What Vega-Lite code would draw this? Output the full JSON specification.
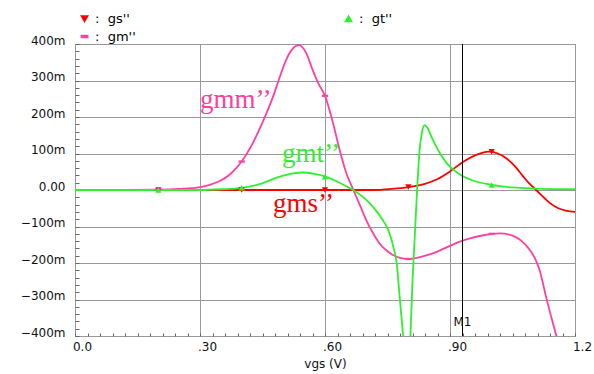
{
  "$schema": "https://vega.github.io/schema/vega-lite/v6.json",
  "width": 500,
  "height": 292,
  "autosize": "none",
  "padding": {"left": 75, "top": 44, "right": 19, "bottom": 38},
  "background": "white",
  "config": {
    "view": {"stroke": "#999999", "strokeWidth": 1},
    "axis": {"labelFont": "DejaVu Sans", "labelFontSize": 12, "labelColor": "#111111", "titleFont": "DejaVu Sans", "titleFontSize": 12, "titleFontWeight": "normal", "titleColor": "#111111", "domain": false, "tickColor": "#666666", "labelOverlap": false, "labelFlush": false}
  },
  "datasets": {
    "curves": [
      {"series": "gs''", "x": 0, "y": 0}, {"series": "gs''", "x": 0.2, "y": 0}, {"series": "gs''", "x": 0.4, "y": 0}, {"series": "gs''", "x": 0.6, "y": 0}, {"series": "gs''", "x": 0.72, "y": 0}, {"series": "gs''", "x": 0.76, "y": 0.003}, {"series": "gs''", "x": 0.8, "y": 0.008}, {"series": "gs''", "x": 0.84, "y": 0.017}, {"series": "gs''", "x": 0.87, "y": 0.03}, {"series": "gs''", "x": 0.9, "y": 0.051}, {"series": "gs''", "x": 0.93, "y": 0.076}, {"series": "gs''", "x": 0.955, "y": 0.092}, {"series": "gs''", "x": 0.975, "y": 0.101}, {"series": "gs''", "x": 0.995, "y": 0.105}, {"series": "gs''", "x": 1.015, "y": 0.1}, {"series": "gs''", "x": 1.035, "y": 0.087}, {"series": "gs''", "x": 1.055, "y": 0.066}, {"series": "gs''", "x": 1.075, "y": 0.038}, {"series": "gs''", "x": 1.09, "y": 0.018}, {"series": "gs''", "x": 1.105, "y": 0.002}, {"series": "gs''", "x": 1.12, "y": -0.015}, {"series": "gs''", "x": 1.14, "y": -0.036}, {"series": "gs''", "x": 1.16, "y": -0.05}, {"series": "gs''", "x": 1.18, "y": -0.057}, {"series": "gs''", "x": 1.2, "y": -0.06},
      {"series": "gm''", "x": 0, "y": 0}, {"series": "gm''", "x": 0.1, "y": 0}, {"series": "gm''", "x": 0.2, "y": 0.001}, {"series": "gm''", "x": 0.25, "y": 0.003}, {"series": "gm''", "x": 0.3, "y": 0.008}, {"series": "gm''", "x": 0.325, "y": 0.015}, {"series": "gm''", "x": 0.35, "y": 0.026}, {"series": "gm''", "x": 0.375, "y": 0.046}, {"series": "gm''", "x": 0.4, "y": 0.078}, {"series": "gm''", "x": 0.425, "y": 0.125}, {"series": "gm''", "x": 0.45, "y": 0.185}, {"series": "gm''", "x": 0.475, "y": 0.255}, {"series": "gm''", "x": 0.49, "y": 0.305}, {"series": "gm''", "x": 0.505, "y": 0.352}, {"series": "gm''", "x": 0.52, "y": 0.384}, {"series": "gm''", "x": 0.538, "y": 0.397}, {"series": "gm''", "x": 0.555, "y": 0.375}, {"series": "gm''", "x": 0.57, "y": 0.33}, {"series": "gm''", "x": 0.585, "y": 0.29}, {"series": "gm''", "x": 0.6, "y": 0.258}, {"series": "gm''", "x": 0.62, "y": 0.18}, {"series": "gm''", "x": 0.635, "y": 0.11}, {"series": "gm''", "x": 0.65, "y": 0.05}, {"series": "gm''", "x": 0.668, "y": 0}, {"series": "gm''", "x": 0.685, "y": -0.045}, {"series": "gm''", "x": 0.7, "y": -0.085}, {"series": "gm''", "x": 0.715, "y": -0.118}, {"series": "gm''", "x": 0.73, "y": -0.145}, {"series": "gm''", "x": 0.745, "y": -0.163}, {"series": "gm''", "x": 0.763, "y": -0.178}, {"series": "gm''", "x": 0.78, "y": -0.186}, {"series": "gm''", "x": 0.8, "y": -0.189}, {"series": "gm''", "x": 0.83, "y": -0.183}, {"series": "gm''", "x": 0.86, "y": -0.173}, {"series": "gm''", "x": 0.9, "y": -0.153}, {"series": "gm''", "x": 0.92, "y": -0.143}, {"series": "gm''", "x": 0.95, "y": -0.132}, {"series": "gm''", "x": 0.98, "y": -0.124}, {"series": "gm''", "x": 1.02, "y": -0.119}, {"series": "gm''", "x": 1.05, "y": -0.125}, {"series": "gm''", "x": 1.07, "y": -0.138}, {"series": "gm''", "x": 1.09, "y": -0.162}, {"series": "gm''", "x": 1.105, "y": -0.19}, {"series": "gm''", "x": 1.115, "y": -0.219}, {"series": "gm''", "x": 1.13, "y": -0.29}, {"series": "gm''", "x": 1.147, "y": -0.365}, {"series": "gm''", "x": 1.16, "y": -0.42}, {"series": "gm''", "x": 1.175, "y": -0.5},
      {"series": "gt''", "x": 0, "y": 0}, {"series": "gt''", "x": 0.3, "y": 0}, {"series": "gt''", "x": 0.35, "y": 0.002}, {"series": "gt''", "x": 0.4, "y": 0.006}, {"series": "gt''", "x": 0.443, "y": 0.016}, {"series": "gt''", "x": 0.49, "y": 0.036}, {"series": "gt''", "x": 0.52, "y": 0.045}, {"series": "gt''", "x": 0.547, "y": 0.048}, {"series": "gt''", "x": 0.575, "y": 0.044}, {"series": "gt''", "x": 0.603, "y": 0.036}, {"series": "gt''", "x": 0.635, "y": 0.02}, {"series": "gt''", "x": 0.667, "y": 0}, {"series": "gt''", "x": 0.69, "y": -0.018}, {"series": "gt''", "x": 0.707, "y": -0.036}, {"series": "gt''", "x": 0.725, "y": -0.06}, {"series": "gt''", "x": 0.74, "y": -0.085}, {"series": "gt''", "x": 0.75, "y": -0.105}, {"series": "gt''", "x": 0.758, "y": -0.13}, {"series": "gt''", "x": 0.765, "y": -0.16}, {"series": "gt''", "x": 0.772, "y": -0.2}, {"series": "gt''", "x": 0.779, "y": -0.29}, {"series": "gt''", "x": 0.786, "y": -0.38}, {"series": "gt''", "x": 0.79, "y": -0.43}, {"series": "gt''", "x": 0.797, "y": -0.6}, {"series": "gt''", "x": 0.804, "y": -0.43}, {"series": "gt''", "x": 0.81, "y": -0.25}, {"series": "gt''", "x": 0.815, "y": -0.137}, {"series": "gt''", "x": 0.821, "y": 0}, {"series": "gt''", "x": 0.827, "y": 0.11}, {"series": "gt''", "x": 0.833, "y": 0.16}, {"series": "gt''", "x": 0.839, "y": 0.178}, {"series": "gt''", "x": 0.847, "y": 0.168}, {"series": "gt''", "x": 0.857, "y": 0.142}, {"series": "gt''", "x": 0.867, "y": 0.119}, {"series": "gt''", "x": 0.88, "y": 0.093}, {"series": "gt''", "x": 0.891, "y": 0.075}, {"series": "gt''", "x": 0.9, "y": 0.064}, {"series": "gt''", "x": 0.923, "y": 0.043}, {"series": "gt''", "x": 0.955, "y": 0.026}, {"series": "gt''", "x": 1.0, "y": 0.014}, {"series": "gt''", "x": 1.05, "y": 0.007}, {"series": "gt''", "x": 1.107, "y": 0.004}, {"series": "gt''", "x": 1.2, "y": 0.002}
    ],
    "markers": [
      {"series": "gs''", "x": 0.2, "y": 0}, {"series": "gs''", "x": 0.4, "y": 0}, {"series": "gs''", "x": 0.6, "y": 0}, {"series": "gs''", "x": 0.8, "y": 0.008}, {"series": "gs''", "x": 1.0, "y": 0.105},
      {"series": "gm''", "x": 0.2, "y": 0.001}, {"series": "gm''", "x": 0.4, "y": 0.078}, {"series": "gm''", "x": 0.6, "y": 0.258}, {"series": "gm''", "x": 0.8, "y": -0.189}, {"series": "gm''", "x": 1.0, "y": -0.12},
      {"series": "gt''", "x": 0.2, "y": 0}, {"series": "gt''", "x": 0.4, "y": 0.006}, {"series": "gt''", "x": 0.6, "y": 0.036}, {"series": "gt''", "x": 1.0, "y": 0.014}
    ],
    "notes": [
      {"series": "gm''", "x": 0.3, "y": 0.224, "text": "gmm’’"},
      {"series": "gt''", "x": 0.497, "y": 0.076, "text": "gmt’’"},
      {"series": "gs''", "x": 0.475, "y": -0.061, "text": "gms’’"}
    ],
    "cursor": [{"x": 0.93, "y": -0.361, "label": "M1"}]
  },
  "encoding": {
    "x": {"field": "x", "type": "quantitative", "scale": {"domain": [0, 1.2], "nice": false, "zero": false},
      "axis": {"title": "vgs (V)", "values": [0, 0.03, 0.06, 0.09, 0.12, 0.15, 0.18, 0.21, 0.24, 0.27, 0.3, 0.33, 0.36, 0.39, 0.42, 0.45, 0.48, 0.51, 0.54, 0.57, 0.6, 0.63, 0.66, 0.69, 0.72, 0.75, 0.78, 0.81, 0.84, 0.87, 0.9, 0.93, 0.96, 0.99, 1.02, 1.05, 1.08, 1.11, 1.14, 1.17, 1.2],
        "tickSize": -3, "labelPadding": 8, "labelOffset": 7, "titlePadding": 6,
        "grid": true, "gridColor": "#999999", "gridWidth": 1,
        "gridOpacity": {"condition": {"test": "abs(datum.value/0.3 - round(datum.value/0.3)) < 0.001", "value": 1}, "value": 0},
        "labelExpr": "abs(datum.value/0.3 - round(datum.value/0.3)) > 0.001 ? '' : (datum.value < 0.01 ? '0.0' : (datum.value > 1.1 ? '1.2' : '.' + format(round(datum.value*100), 'd')))"}},
    "y": {"field": "y", "type": "quantitative", "scale": {"domain": [-0.4, 0.4], "nice": false, "zero": false},
      "axis": {"title": null, "values": [-0.4, -0.38, -0.36, -0.34, -0.32, -0.3, -0.28, -0.26, -0.24, -0.22, -0.2, -0.18, -0.16, -0.14, -0.12, -0.1, -0.08, -0.06, -0.04, -0.02, 0, 0.02, 0.04, 0.06, 0.08, 0.1, 0.12, 0.14, 0.16, 0.18, 0.2, 0.22, 0.24, 0.26, 0.28, 0.3, 0.32, 0.34, 0.36, 0.38, 0.4],
        "tickSize": -4, "labelPadding": 14, "labelOffset": -4,
        "grid": true, "gridColor": "#999999", "gridWidth": 1,
        "gridOpacity": {"condition": {"test": "abs(datum.value*10 - round(datum.value*10)) < 0.001", "value": 1}, "value": 0},
        "labelExpr": "abs(datum.value*10 - round(datum.value*10)) > 0.001 ? '' : (abs(datum.value) < 0.000001 ? '0.00' : format(round(datum.value*1000), 'd') + 'm')"}}
  },
  "layer": [
    {
      "data": {"name": "curves"},
      "mark": {"type": "line", "clip": true, "strokeWidth": 1.8, "interpolate": "monotone"},
      "encoding": {
        "color": {"field": "series", "type": "nominal", "scale": {"domain": ["gs''", "gm''", "gt''"], "range": ["#ff0000", "#ff409f", "#2ef02e"]}},
        "detail": {"field": "series"}
      }
    },
    {
      "data": {"name": "markers"},
      "mark": {"type": "point", "filled": true, "clip": true, "size": 40, "opacity": 1},
      "encoding": {
        "color": {"field": "series", "type": "nominal",
          "legend": {"orient": "none", "legendX": 3, "legendY": -32, "columns": 2, "columnPadding": 206, "rowPadding": 4, "title": null, "labelFont": "DejaVu Sans", "labelFontSize": 13, "labelOffset": 4, "symbolSize": 40, "labelExpr": "':\u00a0\u00a0' + datum.label", "encode": {"labels": {"update": {"fill": {"scale": "color", "field": "value"}}}}}},
        "shape": {"field": "series", "type": "nominal", "scale": {"domain": ["gs''", "gm''", "gt''"], "range": ["triangle-down", "M-1,-0.35H1V0.35H-1Z", "triangle-up"]},
          "legend": {"orient": "none", "legendX": 3, "legendY": -32, "columns": 2, "columnPadding": 206, "rowPadding": 4, "title": null, "labelFont": "DejaVu Sans", "labelFontSize": 13, "labelOffset": 4, "symbolSize": 40, "labelExpr": "':\u00a0\u00a0' + datum.label", "encode": {"labels": {"update": {"fill": {"scale": "color", "field": "value"}}}}}}
      }
    },
    {
      "data": {"name": "cursor"},
      "mark": {"type": "rule", "color": "#000000", "strokeWidth": 1},
      "encoding": {"y": {"datum": -0.4}, "y2": {"datum": 0.4}}
    },
    {
      "data": {"name": "cursor"},
      "mark": {"type": "text", "font": "DejaVu Sans", "fontSize": 12, "color": "#111111", "align": "center", "baseline": "middle"},
      "encoding": {"text": {"field": "label"}}
    },
    {
      "data": {"name": "notes"},
      "mark": {"type": "text", "font": "Liberation Serif", "fontSize": 27, "align": "left", "baseline": "alphabetic"},
      "encoding": {"text": {"field": "text"}, "color": {"field": "series", "type": "nominal"}}
    }
  ]
}
